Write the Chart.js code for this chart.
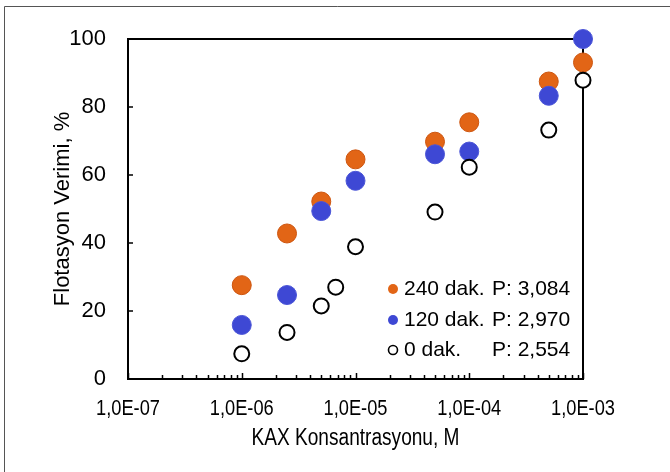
<!DOCTYPE html>
<html>
<head>
<meta charset="utf-8">
<script src="https://cdn.jsdelivr.net/npm/chart.js@4"></script>
<style>
  html, body { margin: 0; padding: 0; background: #fff; }
  #wrap { width: 670px; height: 472px; position: relative; }
</style>
</head>
<body>
<div id="wrap"><canvas id="flotChart"></canvas></div>
<script>
// KAX konsantrasyonu, M
const kax = [1e-6, 2.5e-6, 5e-6, 1e-5, 5e-5, 1e-4, 5e-4, 1e-3];
const kax0 = [1e-6, 2.5e-6, 5e-6, 6.7e-6, 1e-5, 5e-5, 1e-4, 5e-4, 1e-3];

// Flotasyon verimi, %
const verim240 = [27.6, 42.8, 52.2, 64.6, 69.8, 75.5, 87.5, 93.1];
const verim120 = [15.9, 24.7, 49.4, 58.3, 66.1, 66.9, 83.3, 100];
const verim0 = [7.4, 13.7, 21.5, 27.0, 38.9, 49.1, 62.3, 73.2, 87.9];

const seriesNames = ['240 dak.', '120 dak.', '0 dak.'];
const pValues = ['P: 3,084', 'P: 2,970', 'P: 2,554'];

const xTicks = [1e-7, 1e-6, 1e-5, 1e-4, 1e-3];
const xTickLabels = ['1,0E-07', '1,0E-06', '1,0E-05', '1,0E-04', '1,0E-03'];
const yTicks = [0, 20, 40, 60, 80, 100];
const xTitle = 'KAX Konsantrasyonu, M';

const normal = "'Liberation Sans', Arial, sans-serif";

function pts(xs, ys) {
    return xs.map((x, i) => ({ x: x, y: ys[i] }));
}

// dar yazı (x ekseni etiketleri sıkıştırılmış)
function narrowText(ctx, text, cx, cy, size) {
    ctx.save();
    ctx.translate(cx, cy);
    ctx.scale(0.83, 1);
    ctx.font = size + 'px ' + normal;
    ctx.textAlign = 'center';
    ctx.textBaseline = 'middle';
    ctx.fillStyle = '#000';
    ctx.fillText(text, 0, 0);
    ctx.restore();
}

// çerçeve, içe dönük tikler, lejant
const boxPlugin = {
    id: 'boxPlugin',
    beforeDatasetsDraw(chart) {
        const { ctx, chartArea: a, scales: { x, y } } = chart;
        ctx.save();
        // dış çerçeve (sol ve üst)
        ctx.strokeStyle = '#555';
        ctx.lineWidth = 1;
        ctx.beginPath();
        ctx.moveTo(4.5, 472);
        ctx.lineTo(4.5, 6.5);
        ctx.lineTo(670, 6.5);
        ctx.stroke();

        ctx.strokeStyle = '#000';
        ctx.lineWidth = 2;
        ctx.strokeRect(a.left, a.top, a.right - a.left, a.bottom - a.top);

        ctx.lineWidth = 1.5;
        ctx.beginPath();
        yTicks.forEach(v => {
            const py = Math.round(y.getPixelForValue(v));
            ctx.moveTo(a.left, py);
            ctx.lineTo(a.left + 5, py);
        });
        xTicks.forEach((d, i) => {
            const px = Math.round(x.getPixelForValue(d)) + 0.5;
            ctx.moveTo(px, a.bottom);
            ctx.lineTo(px, a.bottom - 6);
            if (i < xTicks.length - 1) {
                for (let m = 2; m <= 9; m++) {
                    const mx = Math.round(x.getPixelForValue(d * m)) + 0.5;
                    ctx.moveTo(mx, a.bottom);
                    ctx.lineTo(mx, a.bottom - 4);
                }
            }
        });
        ctx.stroke();
        ctx.restore();

        // x ekseni etiketleri ve başlığı
        xTicks.forEach((v, i) => {
            narrowText(ctx, xTickLabels[i], x.getPixelForValue(v), a.bottom + 30, 22);
        });
        narrowText(ctx, xTitle, (a.left + a.right) / 2, a.bottom + 60, 23);
    },
    afterDraw(chart) {
        const { ctx } = chart;
        const rows = [289, 320, 350];
        ctx.save();
        ctx.font = '21px ' + normal;
        ctx.textBaseline = 'middle';
        chart.data.datasets.forEach((ds, i) => {
            const yy = rows[i];
            ctx.beginPath();
            ctx.arc(393, yy, i === 2 ? 4.5 : 5, 0, Math.PI * 2);
            ctx.fillStyle = ds.backgroundColor;
            ctx.fill();
            if (i === 2) {
                ctx.lineWidth = 1.6;
                ctx.strokeStyle = '#000';
                ctx.stroke();
            }
            ctx.fillStyle = '#000';
            ctx.fillText(seriesNames[i], 404, yy);
            ctx.fillText(pValues[i], 492, yy);
        });
        ctx.restore();
    }
};

const ctx = document.getElementById('flotChart');
new Chart(ctx.getContext('2d'), {
    type: 'scatter',
    data: {
        datasets: [
            {
                label: seriesNames[0],
                data: pts(kax, verim240),
                backgroundColor: 'rgb(226, 101, 22)',
                borderColor: 'rgb(205, 85, 15)',
                borderWidth: 1,
                pointRadius: 9.5,
                clip: false,
                order: 3
            },
            {
                label: seriesNames[1],
                data: pts(kax, verim120),
                backgroundColor: 'rgb(62, 72, 212)',
                borderColor: 'rgb(75, 85, 215)',
                borderWidth: 1,
                pointRadius: 9.5,
                clip: false,
                order: 2
            },
            {
                label: seriesNames[2],
                data: pts(kax0, verim0),
                backgroundColor: '#fff',
                borderColor: '#000',
                borderWidth: 2,
                pointRadius: 7.5,
                clip: false,
                order: 1
            }
        ]
    },
    options: {
        responsive: true,
        maintainAspectRatio: false,
        animation: false,
        layout: {
            padding: { left: 0, top: 39, right: 87, bottom: 0 }
        },
        plugins: {
            legend: { display: false },
            tooltip: { enabled: false }
        },
        scales: {
            x: {
                type: 'logarithmic',
                min: 1e-7,
                max: 1e-3,
                afterBuildTicks: function(s) {
                    s.ticks = xTicks.map(v => ({ value: v }));
                },
                afterFit: function(s) { s.height = 93; },
                grid: { display: false, drawTicks: false },
                border: { display: false },
                ticks: { display: false },
                title: { display: false }
            },
            y: {
                min: 0,
                max: 100,
                afterBuildTicks: function(s) {
                    s.ticks = yTicks.map(v => ({ value: v }));
                },
                afterFit: function(s) { s.width = 128; },
                grid: { display: false, drawTicks: false },
                border: { display: false },
                ticks: {
                    padding: 22,
                    color: '#000',
                    font: { family: normal, size: 22 }
                },
                title: {
                    display: true,
                    text: 'Flotasyon Verimi, %',
                    color: '#000',
                    font: { family: normal, size: 22 },
                    padding: { top: 50, bottom: 0 }
                }
            }
        }
    },
    plugins: [boxPlugin]
});
</script>
</body>
</html>
